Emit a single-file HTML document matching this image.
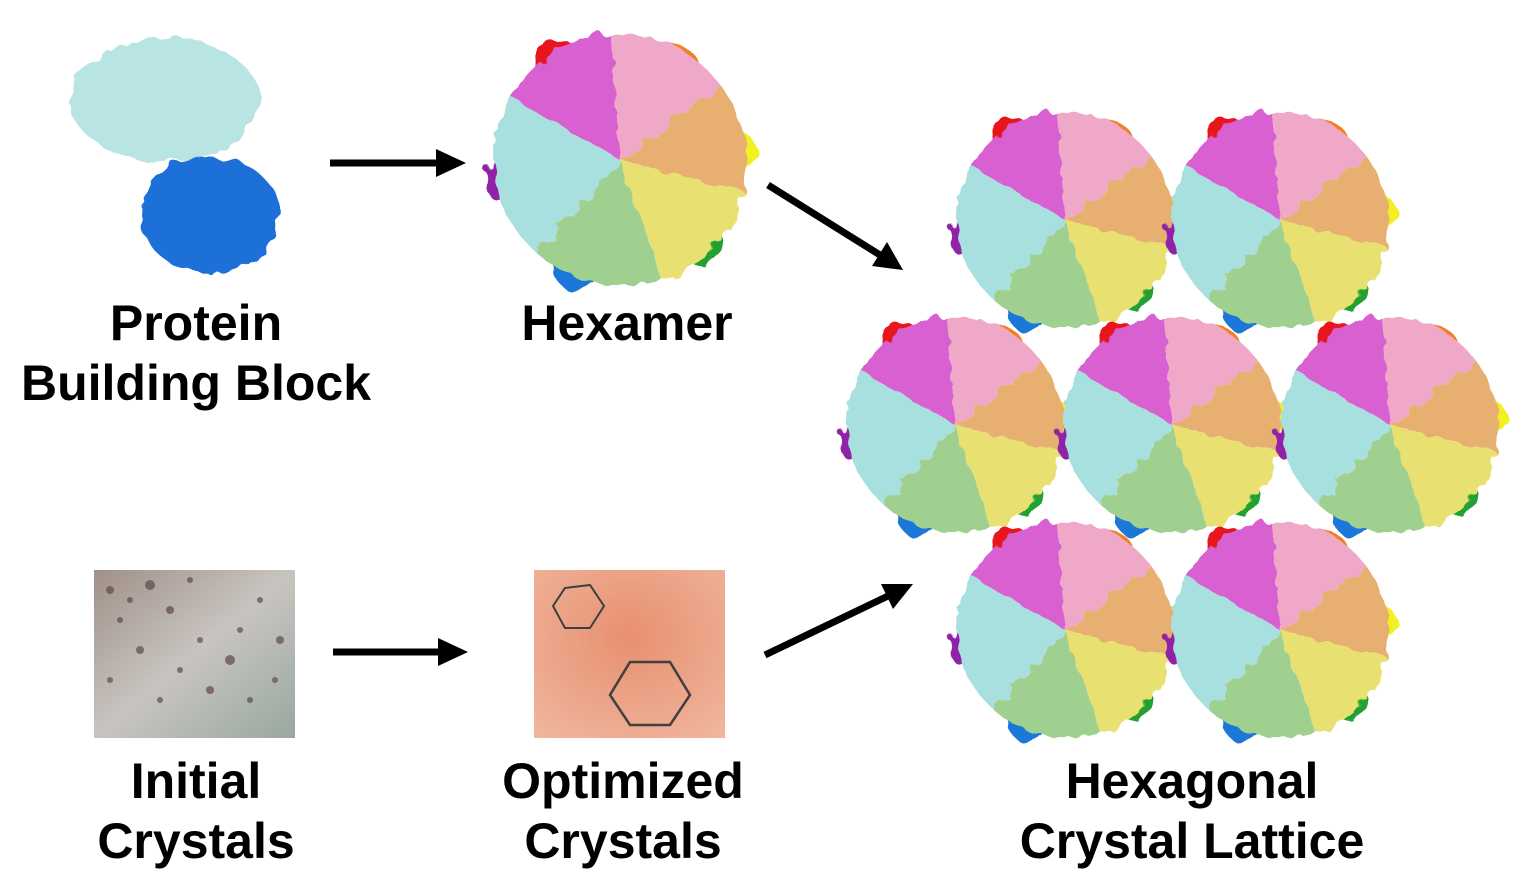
<!DOCTYPE html>
<html><head><meta charset="utf-8"><style>
html,body{margin:0;padding:0;background:#fff;}
body{width:1520px;height:895px;position:relative;overflow:hidden;font-family:"Liberation Sans",Arial,sans-serif;}
.t{position:absolute;font-weight:bold;font-size:50px;line-height:60px;text-align:center;color:#000;white-space:nowrap;}
</style></head><body>
<svg width="1520" height="895" style="position:absolute;left:0;top:0">
<defs>
<filter id="rough" x="-20%" y="-20%" width="140%" height="140%">
<feTurbulence type="fractalNoise" baseFrequency="0.06" numOctaves="2" seed="3" result="n"/>
<feDisplacementMap in="SourceGraphic" in2="n" scale="14"/>
</filter>
<g id="hex">
<g filter="url(#rough)">
<circle cx="-58" cy="-92" r="22" fill="#e8141c"/>
<circle cx="55" cy="-88" r="20" fill="#f08020"/>
<circle cx="110" cy="-8" r="20" fill="#f0f020"/>
<circle cx="76" cy="78" r="22" fill="#20a030"/>
<circle cx="-40" cy="104" r="22" fill="#1a78d8"/>
<circle cx="-110" cy="20" r="20" fill="#9020a8"/>
<path d="M0,0 L-104,-60 A120,120 0 0 1 -10,-120 Z" fill="#d860d0"/>
<path d="M0,0 L-10,-120 A120,120 0 0 1 95,-72 Z" fill="#f0a8c8"/>
<path d="M0,0 L95,-72 A120,120 0 0 1 118,30 Z" fill="#e8b070"/>
<path d="M0,0 L118,30 A120,120 0 0 1 40,114 Z" fill="#e8e070"/>
<path d="M0,0 L40,114 A120,120 0 0 1 -80,88 Z" fill="#a0d090"/>
<path d="M0,0 L-80,88 A120,120 0 0 1 -104,-60 Z" fill="#a8e0e0"/>
</g>
</g>
</defs>
<g filter="url(#rough)">
<ellipse cx="165" cy="100" rx="95" ry="62" fill="#b8e4e4"/>
<ellipse cx="210" cy="215" rx="70" ry="58" fill="#1a70d8"/>
</g>
<use href="#hex" transform="translate(620,160) scale(1.05)"/>
<use href="#hex" transform="translate(1065,220) scale(0.9)"/>
<use href="#hex" transform="translate(1280,220) scale(0.9)"/>
<use href="#hex" transform="translate(955,425) scale(0.9)"/>
<use href="#hex" transform="translate(1172,425) scale(0.9)"/>
<use href="#hex" transform="translate(1390,425) scale(0.9)"/>
<use href="#hex" transform="translate(1065,630) scale(0.9)"/>
<use href="#hex" transform="translate(1280,630) scale(0.9)"/>
<defs>
<linearGradient id="g1" x1="0" y1="0" x2="1" y2="1"><stop offset="0" stop-color="#a09088"/><stop offset="0.5" stop-color="#c8c4c0"/><stop offset="1" stop-color="#98a8a0"/></linearGradient>
<radialGradient id="g2" cx="0.5" cy="0.4" r="0.8"><stop offset="0" stop-color="#e89070"/><stop offset="1" stop-color="#f0b8a0"/></radialGradient>
</defs>
<rect x="94" y="570" width="201" height="168" fill="url(#g1)"/>
<g fill="#604850" opacity="0.7">
<circle cx="110" cy="590" r="4"/><circle cx="130" cy="600" r="3"/><circle cx="150" cy="585" r="5"/><circle cx="120" cy="620" r="3"/><circle cx="170" cy="610" r="4"/><circle cx="200" cy="640" r="3"/><circle cx="140" cy="650" r="4"/><circle cx="230" cy="660" r="5"/><circle cx="260" cy="600" r="3"/><circle cx="210" cy="690" r="4"/><circle cx="250" cy="700" r="3"/><circle cx="180" cy="670" r="3"/><circle cx="280" cy="640" r="4"/><circle cx="110" cy="680" r="3"/><circle cx="160" cy="700" r="3"/><circle cx="240" cy="630" r="3"/><circle cx="275" cy="680" r="3"/><circle cx="190" cy="580" r="3"/>
</g>
<rect x="534" y="570" width="191" height="168" fill="url(#g2)"/>
<polygon points="565,588 590,585 604,606 590,628 565,628 553,606" fill="none" stroke="#404040" stroke-width="2"/>
<polygon points="630,662 670,662 690,695 670,725 630,725 610,695" fill="none" stroke="#404040" stroke-width="2.5"/>
<g stroke="#000" stroke-width="7" fill="#000">
<line x1="330" y1="163" x2="440" y2="163"/><polygon points="466,163 436,149 436,177" stroke="none"/>
<line x1="333" y1="652" x2="442" y2="652"/><polygon points="468,652 438,638 438,666" stroke="none"/>
<line x1="768" y1="185" x2="880" y2="255"/><polygon points="903,270 872,266 887,242" stroke="none"/>
<line x1="765" y1="655" x2="888" y2="596"/><polygon points="913,584 893,609 881,584" stroke="none"/>
</g>
</svg>
<div class="t" style="left:0;width:392px;top:293px">Protein<br>Building Block</div>
<div class="t" style="left:427px;width:400px;top:293px">Hexamer</div>
<div class="t" style="left:0;width:392px;top:751px">Initial<br>Crystals</div>
<div class="t" style="left:423px;width:400px;top:751px">Optimized<br>Crystals</div>
<div class="t" style="left:992px;width:400px;top:751px">Hexagonal<br>Crystal Lattice</div>
</body></html>
